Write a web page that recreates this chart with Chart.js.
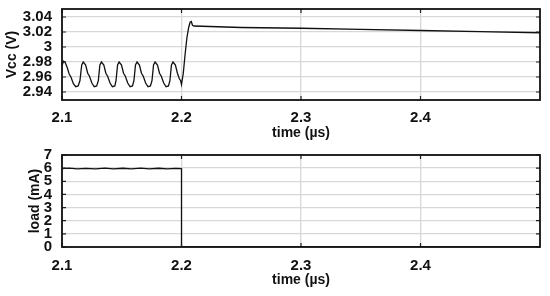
<!DOCTYPE html>
<html lang="en">
<head>
<meta charset="UTF-8">
<title>Vcc and load</title>
<script src="https://cdn.jsdelivr.net/npm/chart.js"></script>
<style>
  html, body { margin: 0; padding: 0; background: #fff; }
  #wrap { position: relative; width: 550px; height: 296px; }
  canvas { position: absolute; left: 0; }
</style>
</head>
<body>
<div id="wrap">
  <canvas id="vcc" width="550" height="148" style="top:0"></canvas>
  <canvas id="load" width="550" height="150" style="top:146px"></canvas>
</div>
<script>
// time axis (µs)
const xTicks = [2.1, 2.2, 2.3, 2.4];
const vccTicks = [2.94, 2.96, 2.98, 3.0, 3.02, 3.04];
const loadTicks = [0, 1, 2, 3, 4, 5, 6, 7];

// supply voltage
const vccT = [
  2.1, 2.1012, 2.1025, 2.1045, 2.106, 2.1075, 2.1095, 2.1115, 2.1135, 2.115, 2.1165,
  2.1178, 2.1198, 2.1215, 2.123, 2.125, 2.127, 2.129, 2.1304, 2.1317,
  2.133, 2.135, 2.1367, 2.1382, 2.1402, 2.1422, 2.1442, 2.1452, 2.1465,
  2.1478, 2.1498, 2.1515, 2.153, 2.155, 2.157, 2.159, 2.1602, 2.1615,
  2.1628, 2.1648, 2.1665, 2.168, 2.17, 2.172, 2.174, 2.1753, 2.1766,
  2.1779, 2.1799, 2.1816, 2.1831, 2.1851, 2.1871, 2.1891, 2.1903, 2.1916,
  2.1929, 2.1949, 2.1966, 2.1981, 2.1993, 2.2,
  2.2015, 2.203, 2.2045, 2.206, 2.2072, 2.2082, 2.2092, 2.2105,
  2.25, 2.3, 2.35, 2.4, 2.45, 2.5
];
const vccV = [
  2.975, 2.981, 2.980, 2.972, 2.964, 2.960, 2.951, 2.947, 2.948, 2.955, 2.976,
  2.980, 2.976, 2.965, 2.961, 2.952, 2.947, 2.948, 2.955, 2.976,
  2.980, 2.976, 2.965, 2.961, 2.952, 2.947, 2.948, 2.955, 2.976,
  2.980, 2.976, 2.965, 2.961, 2.952, 2.947, 2.948, 2.955, 2.976,
  2.980, 2.976, 2.965, 2.961, 2.952, 2.947, 2.948, 2.955, 2.976,
  2.980, 2.976, 2.965, 2.961, 2.952, 2.947, 2.948, 2.955, 2.976,
  2.980, 2.976, 2.965, 2.958, 2.955, 2.950,
  2.965, 2.990, 3.012, 3.026, 3.033, 3.034, 3.029, 3.028,
  3.026, 3.025, 3.0235, 3.022, 3.0205, 3.019
];

// load current (mA)
const loadT = [2.1, 2.106, 2.113, 2.12, 2.128, 2.136, 2.143, 2.151, 2.158, 2.166,
  2.173, 2.181, 2.188, 2.195, 2.2, 2.2, 2.5];
const loadV = [5.97, 6.0, 5.94, 5.98, 5.95, 6.0, 5.95, 5.99, 5.95, 6.0,
  5.95, 5.99, 5.95, 5.98, 5.96, 0, 0];

const FONT = '"Liberation Sans", Arial, sans-serif';

const framePlugin = {
  id: 'frame',
  afterDraw(chart) {
    const {ctx, chartArea: a, scales} = chart;
    ctx.save();
    ctx.strokeStyle = '#222';
    ctx.lineWidth = 1.2;
    scales.x.ticks.forEach(t => {
      const px = scales.x.getPixelForValue(t.value);
      ctx.beginPath();
      ctx.moveTo(px, a.top); ctx.lineTo(px, a.top + 4);
      ctx.moveTo(px, a.bottom); ctx.lineTo(px, a.bottom - 4);
      ctx.stroke();
    });
    scales.y.ticks.forEach(t => {
      const py = scales.y.getPixelForValue(t.value);
      ctx.beginPath();
      ctx.moveTo(a.left, py); ctx.lineTo(a.left + 4, py);
      ctx.moveTo(a.right, py); ctx.lineTo(a.right - 4, py);
      ctx.stroke();
    });
    ctx.lineWidth = 1.8;
    ctx.strokeStyle = '#111';
    ctx.strokeRect(a.left, a.top, a.right - a.left, a.bottom - a.top);
    ctx.restore();
  }
};

function makeChart(id, t, v, yMin, yMax, yTicks, yTitle, yTitlePad, padTop, xHeight, xPad, xTitlePad) {
  return new Chart(document.getElementById(id), {
    type: 'line',
    data: {
      datasets: [{
        data: t.map((x, i) => ({x: x, y: v[i]})),
        borderColor: '#111',
        borderWidth: 1.3,
        pointRadius: 0,
        tension: 0,
        fill: false
      }]
    },
    options: {
      responsive: false,
      animation: false,
      layout: { padding: { top: padTop, right: 10, left: 0, bottom: 0 } },
      plugins: { legend: { display: false }, tooltip: { enabled: false } },
      scales: {
        x: {
          type: 'linear',
          min: 2.1,
          max: 2.5,
          afterBuildTicks: s => { s.ticks = xTicks.map(x => ({value: x})); },
          afterFit: s => { s.height = xHeight; s.paddingLeft = 0; s.paddingRight = 0; },
          grid: { color: '#d8d8d8', lineWidth: 1.3, drawTicks: false },
          border: { display: false },
          ticks: {
            autoSkip: false,
            maxRotation: 0,
            padding: xPad,
            color: '#111',
            font: { family: FONT, size: 15, weight: 'bold' },
            callback: val => String(+val.toFixed(2))
          },
          title: {
            display: true,
            text: 'time (µs)',
            color: '#111',
            font: { family: FONT, size: 14, weight: 'bold' },
            padding: { top: 0, bottom: xTitlePad }
          }
        },
        y: {
          min: yMin,
          max: yMax,
          afterBuildTicks: s => { s.ticks = yTicks.map(x => ({value: x})); },
          afterFit: s => { s.width = 62; s.paddingTop = 0; s.paddingBottom = 0; },
          grid: { color: '#d8d8d8', lineWidth: 1.3, drawTicks: false },
          border: { display: false },
          ticks: {
            autoSkip: false,
            padding: 10,
            color: '#111',
            font: { family: FONT, size: 15, weight: 'bold' },
            callback: val => String(+val.toFixed(2))
          },
          title: {
            display: true,
            text: yTitle,
            color: '#111',
            font: { family: FONT, size: 14, weight: 'bold' },
            padding: { top: yTitlePad, bottom: 0 }
          }
        }
      }
    },
    plugins: [framePlugin]
  });
}

makeChart('vcc', vccT, vccV, 2.9293, 3.0507, vccTicks, 'Vcc (V)', 4, 9, 48, 9, 6.6);
makeChart('load', loadT, loadV, 0, 7, loadTicks, 'load (mA)', 27, 9, 49, 10, 7.6);
</script>
</body>
</html>
